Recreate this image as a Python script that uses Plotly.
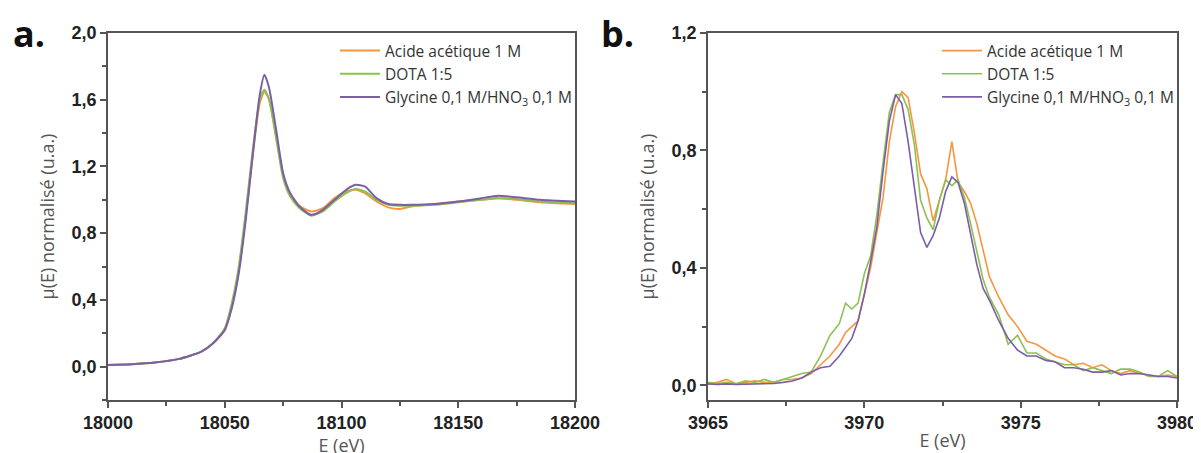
import plotly.graph_objects as go
from plotly.subplots import make_subplots

# ---- panel a: XANES, E (eV) ----
E_A = [18000, 18010, 18020, 18030, 18040, 18045, 18050, 18053, 18056, 18059,
       18062, 18065, 18067, 18069, 18072, 18075, 18078, 18082, 18087, 18092,
       18097, 18102, 18106, 18110, 18115, 18120, 18125, 18130, 18140, 18150,
       18160, 18167, 18175, 18185, 18200]
ACIDE_A = [0.01, 0.015, 0.025, 0.045, 0.09, 0.14, 0.22, 0.36, 0.58, 0.9,
           1.27, 1.58, 1.65, 1.6, 1.38, 1.15, 1.04, 0.965, 0.93, 0.95,
           1.01, 1.05, 1.06, 1.04, 0.99, 0.955, 0.945, 0.96, 0.975, 0.99,
           1.0, 1.01, 1.0, 0.985, 0.975]
DOTA_A = [0.01, 0.015, 0.025, 0.045, 0.09, 0.14, 0.23, 0.38, 0.6, 0.93,
          1.3, 1.6, 1.66, 1.6, 1.37, 1.13, 1.02, 0.95, 0.905, 0.93,
          0.99, 1.04, 1.065, 1.05, 1.0, 0.97, 0.965, 0.965, 0.97, 0.985,
          1.0, 1.01, 1.005, 0.99, 0.98]
GLYCINE_A = [0.01, 0.015, 0.025, 0.045, 0.09, 0.14, 0.22, 0.35, 0.56, 0.88,
             1.27, 1.63, 1.75, 1.67, 1.42, 1.16, 1.04, 0.96, 0.91, 0.94,
             1.0, 1.06, 1.09, 1.08, 1.01, 0.975, 0.97, 0.97, 0.975, 0.99,
             1.01, 1.025, 1.015, 1.0, 0.99]

# ---- panel b: pre-edge, E (eV) ----
E_B = [3965.0, 3965.3, 3965.6, 3965.9, 3966.2, 3966.5, 3966.8, 3967.1, 3967.4, 3967.7,
       3968.0, 3968.3, 3968.6, 3968.9, 3969.2, 3969.4, 3969.6, 3969.8, 3970.0, 3970.2,
       3970.4, 3970.6, 3970.8, 3971.0, 3971.2, 3971.4, 3971.6, 3971.8, 3972.0, 3972.2,
       3972.4, 3972.6, 3972.8, 3973.0, 3973.2, 3973.4, 3973.6, 3973.8, 3974.0, 3974.3,
       3974.6, 3974.9, 3975.2, 3975.5, 3975.8, 3976.1, 3976.4, 3976.7, 3977.0, 3977.3,
       3977.6, 3977.9, 3978.2, 3978.5, 3978.8, 3979.1, 3979.4, 3979.7, 3980.0]
ACIDE_B = [0.005, 0.01, 0.02, 0.005, 0.01, 0.015, 0.01, 0.01, 0.02, 0.02,
           0.025, 0.04, 0.07, 0.1, 0.14, 0.18, 0.2, 0.22, 0.31, 0.4,
           0.52, 0.64, 0.83, 0.95, 1.0, 0.98, 0.86, 0.72, 0.67, 0.56,
           0.63, 0.7, 0.83, 0.69, 0.66, 0.62, 0.55, 0.46, 0.37, 0.3,
           0.24, 0.2, 0.15, 0.14, 0.12, 0.1, 0.09, 0.07, 0.075, 0.06,
           0.07, 0.05, 0.04, 0.05, 0.04, 0.035, 0.03, 0.035, 0.03]
DOTA_B = [0.01, 0.005, 0.01, 0.005, 0.015, 0.01, 0.02, 0.01, 0.02, 0.03,
          0.04, 0.045, 0.1, 0.17, 0.21, 0.28, 0.26, 0.28, 0.38, 0.44,
          0.58, 0.76, 0.93, 0.99, 0.99, 0.94, 0.82, 0.63, 0.57, 0.53,
          0.63, 0.7, 0.68, 0.7, 0.64, 0.55, 0.45, 0.36, 0.3, 0.24,
          0.14, 0.17, 0.11, 0.11, 0.09, 0.08, 0.07, 0.07, 0.05, 0.06,
          0.05, 0.04, 0.055, 0.055, 0.045, 0.03, 0.03, 0.05, 0.03]
GLYCINE_B = [0.005, 0.003, 0.005, 0.003, 0.004, 0.005, 0.004, 0.006, 0.01, 0.015,
             0.025, 0.045, 0.06, 0.065, 0.1, 0.13, 0.16, 0.22, 0.31, 0.42,
             0.54, 0.73, 0.9, 0.99, 0.96, 0.83, 0.68, 0.52, 0.47, 0.51,
             0.57, 0.66, 0.71, 0.69, 0.62, 0.51, 0.41, 0.33, 0.29, 0.22,
             0.16, 0.12, 0.1, 0.1, 0.085, 0.08, 0.06, 0.06, 0.055, 0.045,
             0.045, 0.05, 0.035, 0.04, 0.04, 0.035, 0.03, 0.03, 0.025]

NAMES = ["Acide acétique 1 M", "DOTA 1:5", "Glycine 0,1 M/HNO<sub>3</sub> 0,1 M"]
COLORS = ["#F7963F", "#8CC152", "#7B5EA7"]

W, H = 1201, 453
OFF = 8  # page body margin: the figure is drawn 8 px in from the top-left corner

fig = make_subplots(rows=1, cols=2)

for name, color, ya, yb in zip(NAMES, COLORS, [ACIDE_A, DOTA_A, GLYCINE_A],
                               [ACIDE_B, DOTA_B, GLYCINE_B]):
    fig.add_trace(go.Scatter(x=E_A, y=ya, mode="lines", name=name,
                             line=dict(color=color, width=2, shape="spline", smoothing=0.6),
                             legend="legend"), row=1, col=1)
    fig.add_trace(go.Scatter(x=E_B, y=yb, mode="lines", name=name,
                             line=dict(color=color, width=1.6),
                             legend="legend2"), row=1, col=2)

axis_style = dict(showline=True, linecolor="#555", linewidth=1.5, mirror=True,
                  ticks="outside", ticklen=6, tickwidth=1.5, tickcolor="#555",
                  showgrid=False, zeroline=False, automargin=False,
                  tickfont=dict(family="Liberation Sans, Arial", size=18,
                                color="#222", weight="bold"),
                  title_font=dict(family="Open Sans", size=18, color="#555"))
minor_x_a = dict(ticks="outside", ticklen=4, dtick=25, tickcolor="#555")
minor_x_b = dict(ticks="outside", ticklen=4, dtick=2.5, tickcolor="#555")
minor_y = dict(ticks="outside", ticklen=4, dtick=0.2, tickcolor="#555")


def px_x(x):
    return (x - OFF) / W


def px_y(y):
    return 1 - (y - OFF) / H


y_dom = [px_y(400), px_y(33)]
fig.update_xaxes(**axis_style)
fig.update_yaxes(**axis_style)
fig.update_xaxes(domain=[px_x(108), px_x(575)], range=[18000, 18200], dtick=50,
                 tickformat="d", minor=minor_x_a,
                 title_text="E (eV)", title_standoff=2, row=1, col=1)
fig.update_xaxes(domain=[px_x(708), px_x(1177)], range=[3965, 3980], dtick=5,
                 tickformat="d", minor=minor_x_b,
                 title_text="E (eV)", title_standoff=2, row=1, col=2)
fig.update_yaxes(domain=y_dom, range=[-0.2, 2.0], tick0=0, dtick=0.4,
                 tickformat=".1f", minor=minor_y,
                 title_text="µ(E) normalisé (u.a.)", title_standoff=12, row=1, col=1)
fig.update_yaxes(domain=y_dom, range=[-0.05, 1.2], tick0=0, dtick=0.4,
                 tickformat=".1f", minor=minor_y,
                 title_text="µ(E) normalisé (u.a.)", title_standoff=12, row=1, col=2)

legend_style = dict(bgcolor="rgba(0,0,0,0)",
                    font=dict(family="Open Sans", size=15.5, color="#333"),
                    tracegroupgap=0, xanchor="left", yanchor="top", itemwidth=40)
label_font = dict(family="Open Sans", size=36, color="#111")
fig.update_layout(
    width=W, height=H,
    margin=dict(l=0, r=0, t=0, b=0, autoexpand=False),
    paper_bgcolor="white", plot_bgcolor="white",
    separators=", ",
    legend=dict(x=327 / W, y=1 - 26 / H, **legend_style),
    legend2=dict(x=929 / W, y=1 - 26 / H, **legend_style),
    annotations=[
        dict(text="<b>a.</b>", x=3 / W, y=px_y(34), xref="paper", yref="paper",
             xanchor="left", yanchor="middle", showarrow=False, font=label_font),
        dict(text="<b>b.</b>", x=px_x(599), y=px_y(34), xref="paper", yref="paper",
             xanchor="left", yanchor="middle", showarrow=False, font=label_font),
    ],
)

fig.write_html("out.html")
